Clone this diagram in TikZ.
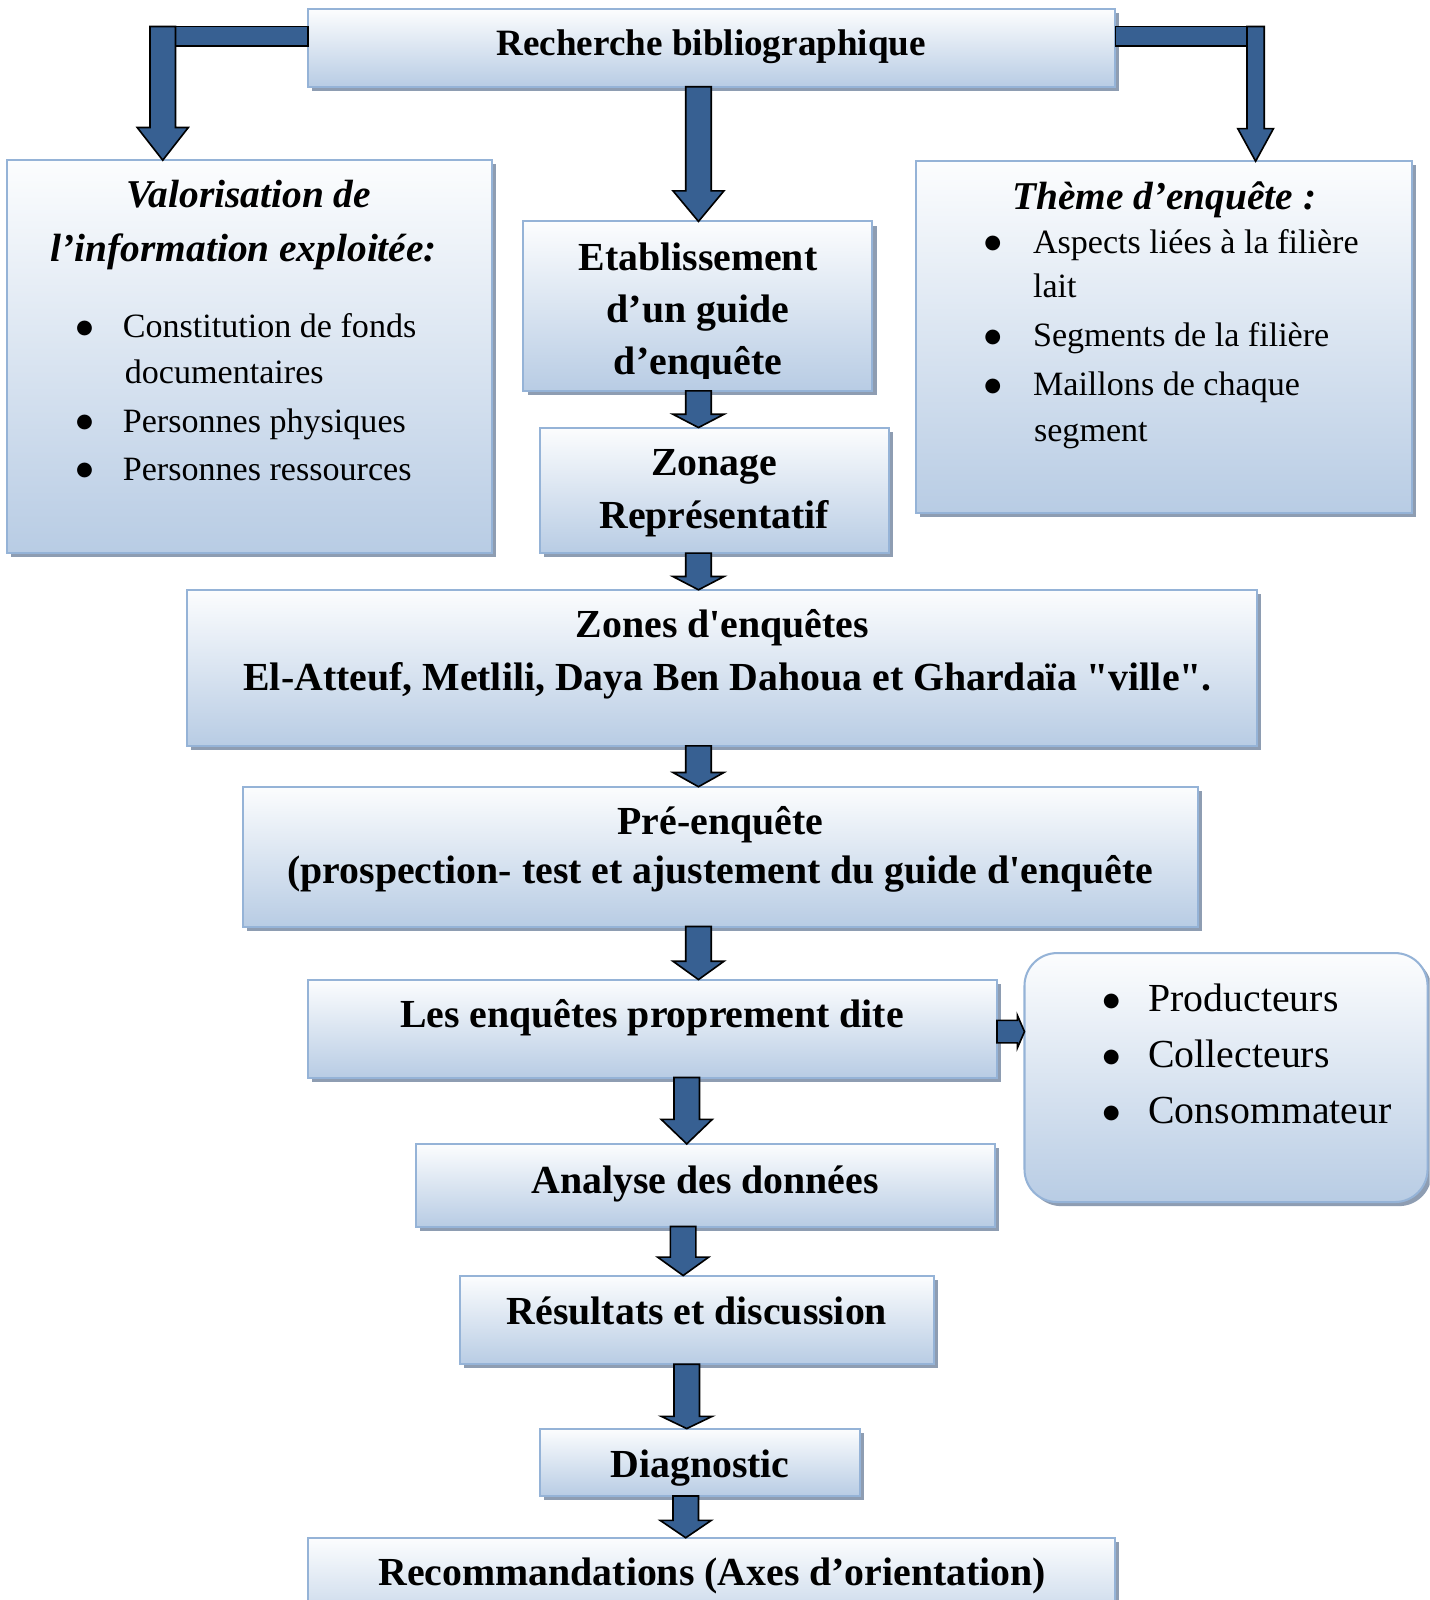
\documentclass[tikz,border=0pt]{standalone}
\usepackage{fontspec}
\setmainfont{Liberation Serif}[Ligatures=TeXOff]
\newfontfamily\dvs{DejaVu Sans}
\usetikzlibrary{calc,shadows}
\definecolor{boxtop}{HTML}{FCFDFE}
\definecolor{boxbot}{HTML}{B8CCE4}
\definecolor{boxline}{HTML}{95B3D7}
\definecolor{shadowc}{HTML}{8E9DB2}
\definecolor{arrowc}{HTML}{376092}
\newcommand{\fB}{\fontsize{19.5}{23}\selectfont\bfseries}
\newcommand{\fR}{\fontsize{18.2}{22}\selectfont\bfseries}
\newcommand{\fI}{\fontsize{19.3}{23}\selectfont\bfseries\itshape}
\newcommand{\fL}{\fontsize{16.7}{20}\selectfont}
\newcommand{\fP}{\fontsize{19.5}{23}\selectfont}
\newcommand{\bigbul}{{\dvs\fontsize{9.5}{10}\selectfont\raisebox{2.3pt}{●}}}
\tikzset{
  box/.style={draw=boxline, line width=1pt, top color=boxtop, bottom color=boxbot,
    inner sep=0pt, outer sep=0pt,
    drop shadow={shadow xshift=2pt, shadow yshift=-2pt, fill=shadowc, opacity=1, draw=none}},
  barrow/.style={fill=arrowc, draw=black, line width=0.8pt, line join=miter},
  lbl/.style={inner sep=0pt, anchor=base},
  lleft/.style={inner sep=0pt, anchor=base west},
}
% box from (x1,y1) to (x2,y2) in image pixels
\newcommand{\boxnode}[6][]{%
  \node[box,#1,minimum width={(#5-#3)*0.5pt},minimum height={(#6-#4)*0.5pt}] (#2) at ({(#3+#5)/2},{(#4+#6)/2}) {};}
% vertical block arrow: #1 top point, #2 tip point, #3 shaft half width, #4 head half width, #5 head length
\newcommand{\varrow}[5]{%
  \draw[barrow] ($#1+(-#3,0)$) -- ($#1+(#3,0)$) -- ($#2+(#3,#5)$) -- ($#2+(#4,#5)$) -- #2
    -- ($#2+(-#4,#5)$) -- ($#2+(-#3,#5)$) -- cycle;}
\begin{document}
\begin{tikzpicture}[x=0.5pt,y=-0.5pt]
\clip (0,0) rectangle (1401,1568);
\fill[white] (0,0) rectangle (1401,1568);

% ---------- boxes ----------
\boxnode{rech}{302}{9}{1093}{85}
\boxnode{val}{7}{157}{482}{542}
\boxnode{etab}{513}{217}{855}{383}
\boxnode{zonage}{529}{419}{871}{542}
\boxnode{theme}{898}{158}{1384}{503}
\boxnode{zones}{183}{578}{1232}{731}
\boxnode{pre}{238}{771}{1174}{908}
\boxnode{enq}{302}{960}{977}{1056}
\boxnode[rounded corners=16pt]{prod}{1004}{934}{1399}{1178}
\boxnode{ana}{408}{1121}{975}{1202}
\boxnode{res}{451}{1250}{915}{1337}
\boxnode{diag}{529}{1400}{843}{1466}
\boxnode{rec}{302}{1507}{1093}{1610}

% ---------- texts ----------
\node[lbl] (t-rech) at (697,54) {\fR Recherche bibliographique};

\node[lbl] (t-val1) at (244,203) {\fI Valorisation de};
\node[lbl] (t-val2) at (239,256) {\fI l’information exploitée:};
\node[lbl] (b-val1) at (83,331) {\bigbul};
\node[lleft] (t-val3) at (120,331) {\fL Constitution de fonds};
\node[lleft] (t-val4) at (122,376) {\fL documentaires};
\node[lbl] (b-val2) at (83,424) {\bigbul};
\node[lleft] (t-val5) at (120,424) {\fL Personnes physiques};
\node[lbl] (b-val3) at (83,471) {\bigbul};
\node[lleft] (t-val6) at (120,471) {\fL Personnes ressources};

\begin{scope}
  \clip (513,217) rectangle (855,371);
  \node[lbl] (t-etab1) at (684,265) {\fB Etablissement};
  \node[lbl] (t-etab2) at (684,316) {\fB d’un guide};
  \node[lbl] (t-etab3) at (684,367) {\fB d’enquête};
\end{scope}

\node[lbl] (t-zon1) at (700,466) {\fB Zonage};
\node[lbl] (t-zon2) at (700,518) {\fB Représentatif};

\node[lbl] (t-th1) at (1141,205) {\fI Thème d’enquête :};
\node[lbl] (b-th1) at (973,248) {\bigbul};
\node[lleft] (t-th2) at (1012,248) {\fL Aspects liées à la filière};
\node[lleft] (t-th3) at (1012,292) {\fL lait};
\node[lbl] (b-th2) at (973,340) {\bigbul};
\node[lleft] (t-th4) at (1012,340) {\fL Segments de la filière};
\node[lbl] (b-th3) at (973,388) {\bigbul};
\node[lleft] (t-th5) at (1012,388) {\fL Maillons de chaque};
\node[lleft] (t-th6) at (1013,433) {\fL segment};

\node[lbl] (t-zones1) at (708,625) {\fB Zones d'enquêtes};
\node[lbl] (t-zones2) at (713,677) {\fB El-Atteuf, Metlili, Daya Ben Dahoua et Ghardaïa "ville".};

\node[lbl] (t-pre1) at (706,818) {\fB Pré-enquête};
\node[lbl] (t-pre2) at (706,866) {\fB (prospection- test et ajustement du guide d'enquête};

\node[lbl] (t-enq) at (639,1007) {\fB Les enquêtes proprement dite};

\node[lbl] (b-p1) at (1089,991) {\bigbul};
\node[lleft] (t-p1) at (1125,991) {\fP Producteurs};
\node[lbl] (b-p2) at (1089,1046) {\bigbul};
\node[lleft] (t-p2) at (1125,1046) {\fP Collecteurs};
\node[lbl] (b-p3) at (1089,1101) {\bigbul};
\node[lleft] (t-p3) at (1125,1101) {\fP Consommateur};

\node[lbl] (t-ana) at (691,1170) {\fB Analyse des données};
\node[lbl] (t-res) at (683,1298) {\fB Résultats et discussion};
\node[lbl] (t-diag) at (686,1448) {\fB Diagnostic};
\node[lbl] (t-rec) at (698,1554) {\fB Recommandations (Axes d’orientation)};

% ---------- connectors ----------
\coordinate (ya) at (0,26);
\coordinate (yb) at (0,45);
\coordinate (kl) at (172,0);
\coordinate (cl) at (159.5,0);
\coordinate (kr) at (1222,0);
\coordinate (cr) at (1230.5,0);
\coordinate (cm) at (684.5,0);
\coordinate (cm2) at (673,0);
\coordinate (cm3) at (669.5,0);
\coordinate (cm4) at (672,0);

% left elbow
\draw[barrow] (rech.west |- ya) rectangle (kl |- yb);
\varrow{(cl |- ya)}{(cl |- val.north)}{6.25pt}{12.5pt}{16pt}
% right elbow
\draw[barrow] (rech.east |- ya) rectangle (kr |- yb);
\varrow{(cr |- ya)}{(cr |- theme.north)}{4.25pt}{8.75pt}{16pt}
% central chain
\varrow{(cm |- rech.south)}{(cm |- etab.north)}{6.25pt}{12.5pt}{15pt}
\varrow{(cm |- etab.south)}{(cm |- zonage.north)}{6.25pt}{12.5pt}{6.5pt}
\varrow{(cm |- zonage.south)}{(cm |- zones.north)}{6.25pt}{12.5pt}{6.5pt}
\varrow{(cm |- zones.south)}{(cm |- pre.north)}{6.25pt}{12.5pt}{7pt}
\varrow{(cm |- pre.south)}{(cm |- enq.north)}{6.25pt}{12.5pt}{9pt}
\varrow{(cm2 |- enq.south)}{(cm2 |- ana.north)}{6.25pt}{12.5pt}{12pt}
\varrow{(cm3 |- ana.south)}{(cm3 |- res.north)}{6.25pt}{12.5pt}{9pt}
\varrow{(cm2 |- res.south)}{(cm2 |- diag.north)}{6.25pt}{12.5pt}{6pt}
\varrow{(cm4 |- diag.south)}{(cm4 |- rec.north)}{6.25pt}{12.5pt}{8.5pt}
% side arrow to list
\coordinate (yh) at (0,1011);
\draw[barrow] (enq.east |- yh) ++(0,-5.5pt) -- ++(10pt,0) -- ++(0,-2.5pt) -- (prod.west |- yh)
  -- ($(enq.east |- yh)+(10pt,8pt)$) -- ++(0,-2.5pt) -- ++(-10pt,0) -- cycle;
\end{tikzpicture}
\end{document}
